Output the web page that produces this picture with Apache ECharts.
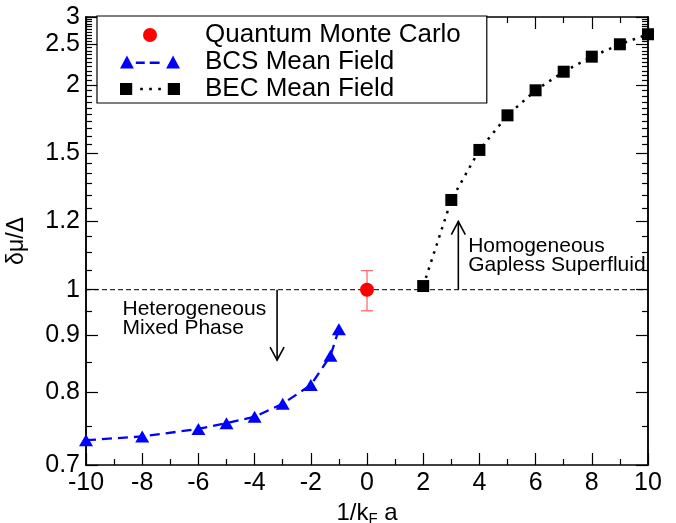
<!DOCTYPE html>
<html><head><meta charset="utf-8">
<script src="https://cdn.jsdelivr.net/npm/echarts@6/dist/echarts.min.js"></script>
<style>html,body{margin:0;padding:0;background:#fff}#c{width:676px;height:523px}</style>
</head><body><div id="c"></div>
<script>
// ---- data ----
const qmcX = [0];
const qmcY = [1.0];
const qmcErrLow = [0.951];
const qmcErrHigh = [1.049];
const bcsX = [-10, -8, -6, -5, -4, -3, -2, -1.3, -1];
const bcsY = [0.731, 0.736, 0.746, 0.754, 0.763, 0.782, 0.811, 0.861, 0.912];
const becX = [2, 3, 4, 5, 6, 7, 8, 9, 10];
const becY = [1.009, 1.281, 1.519, 1.743, 1.951, 2.141, 2.324, 2.500, 2.663];
const refLevel = 1.0;
const yTicks = [0.7, 0.8, 0.9, 1, 1.2, 1.5, 2, 2.5, 3];
const yTickLabels = ['0.7', '0.8', '0.9', '1', '1.2', '1.5', '2', '2.5', '3'];
const yMinorTicks = [0.75, 0.85, 0.95, 1.05, 1.1, 1.15, 1.25, 1.3, 1.35, 1.4, 1.45,
  1.55, 1.6, 1.65, 1.7, 1.75, 1.8, 1.85, 1.9, 1.95, 2.05, 2.1, 2.15, 2.2, 2.25, 2.3,
  2.35, 2.4, 2.45, 2.55, 2.6, 2.65, 2.7, 2.75, 2.8, 2.85, 2.9, 2.95];
const yMin = 0.7, yMax = 3;
const xMin = -10, xMax = 10, xStep = 2;
// arrows: [x, from, to]
const arrowX = [-3.2, 3.25];
const arrowFrom = [1.0, 1.0];
const arrowTo = [0.853, 1.2];
// annotations
const annoText = ['Heterogeneous\nMixed Phase', 'Homogeneous\nGapless Superfluid'];
const annoX = [-8.7, 3.6];
const annoY = [0.933, 1.09];

// ---- scale transform: reciprocal axis ----
const T = v => -1 / v;
const FONT = '"Liberation Sans", Arial, Helvetica, sans-serif';

function yLabel(t) {
  for (let i = 0; i < yTicks.length; i++) {
    if (Math.abs(T(yTicks[i]) - t) < 1e-6) return yTickLabels[i];
  }
  return '';
}
function yAxis(pos, vals, len, withLabel, withName) {
  const a = {
    type: 'value', position: pos, min: T(yMin), max: T(yMax),
    axisLine: { show: true, onZero: false, lineStyle: { color: '#000', width: 1.5 } },
    axisTick: { show: true, inside: true, length: len, customValues: vals.map(T),
      lineStyle: { color: '#000', width: 1.2 } },
    axisLabel: { show: withLabel, customValues: vals.map(T), formatter: yLabel,
      fontSize: 25, color: '#000', fontFamily: FONT, margin: 6 },
    splitLine: { show: false }, minorTick: { show: false }
  };
  if (withName) {
    a.name = 'δμ/Δ'; a.nameLocation = 'middle'; a.nameGap = 58; a.nameRotate = 90;
    a.nameTextStyle = { fontSize: 23, color: '#000', fontFamily: FONT };
  }
  return a;
}
function xAxis(pos, withLabel) {
  const a = {
    type: 'value', position: pos, min: xMin, max: xMax, interval: xStep,
    axisLine: { show: true, onZero: false, lineStyle: { color: '#000', width: 1.5 } },
    axisTick: { show: true, inside: true, length: 12, lineStyle: { color: '#000', width: 1.2 } },
    minorTick: { show: true, splitNumber: 2, length: 6, lineStyle: { color: '#000', width: 1.2 } },
    axisLabel: { show: withLabel, fontSize: 25, color: '#000', fontFamily: FONT, margin: 6 },
    splitLine: { show: false }
  };
  if (withLabel) {
    a.name = '{n|1/k}{s|F}{n| a}'; a.nameLocation = 'middle'; a.nameGap = 30;
    a.nameTextStyle = { rich: {
      n: { fontSize: 24, color: '#000', fontFamily: FONT },
      s: { fontSize: 15, color: '#000', fontFamily: FONT, padding: [12, 0, 0, 0] }
    } };
  }
  return a;
}

const chart = echarts.init(document.getElementById('c'));
chart.setOption({
  animation: false,
  backgroundColor: '#fff',
  grid: { left: 86, right: 28, top: 17, bottom: 58, containLabel: false, outerBoundsMode: 'none' },
  xAxis: [xAxis('bottom', true), xAxis('top', false)],
  yAxis: [yAxis('left', yTicks, 12, true, true), yAxis('left', yMinorTicks, 6, false, false),
          yAxis('right', yTicks, 12, false, false), yAxis('right', yMinorTicks, 6, false, false)],
  legend: {
    orient: 'vertical', left: 97, top: 16, itemWidth: 60, itemHeight: 14, itemGap: 1,
    padding: [6, 26, 1, 23], borderColor: '#000', borderWidth: 1.2, backgroundColor: '#fff',
    selectedMode: false, itemStyle: { borderWidth: 0 },
    textStyle: { fontSize: 26, color: '#000', fontFamily: FONT, padding: [0, 0, 0, 20] },
    data: [
      { name: 'Quantum Monte Carlo', icon: 'circle' },
      { name: 'BCS Mean Field', icon: 'path://M0,13L7,0L14,13Z M16,6L25,6L25,8.5L16,8.5Z M30,6L40,6L40,8.5L30,8.5Z M46.6,13L53.6,0L60.6,13Z' },
      { name: 'BEC Mean Field', icon: 'path://M0,0.5L11.5,0.5L11.5,12L0,12Z M19,5L21.5,5L21.5,7.5L19,7.5Z M27.5,5L30,5L30,7.5L27.5,7.5Z M36,5L38.5,5L38.5,7.5L36,7.5Z M45,0.5L56.5,0.5L56.5,12L45,12Z' }
    ]
  },
  series: [
    { type: 'line', name: 'ref', data: [[xMin, T(refLevel)], [xMax, T(refLevel)]], symbol: 'none',
      silent: true, lineStyle: { color: '#000', width: 1, type: [5, 3] }, z: 1 },
    { type: 'custom', name: 'qmcErr', silent: true, z: 2,
      data: qmcX.map((x, i) => [x, T(qmcErrLow[i]), T(qmcErrHigh[i])]),
      encode: { x: 0, y: [1, 2] },
      renderItem: (params, api) => {
        const a = api.coord([api.value(0), api.value(1)]);
        const b = api.coord([api.value(0), api.value(2)]);
        const st = { stroke: '#ff6a6a', lineWidth: 1.3 };
        return { type: 'group', children: [
          { type: 'line', shape: { x1: a[0], y1: a[1], x2: b[0], y2: b[1] }, style: st },
          { type: 'line', shape: { x1: a[0] - 6, y1: a[1], x2: a[0] + 6, y2: a[1] }, style: st },
          { type: 'line', shape: { x1: b[0] - 6, y1: b[1], x2: b[0] + 6, y2: b[1] }, style: st }
        ] };
      } },
    { type: 'scatter', name: 'Quantum Monte Carlo', data: qmcX.map((x, i) => [x, T(qmcY[i])]),
      symbol: 'circle', symbolSize: 14, itemStyle: { color: '#ff0000', opacity: 1 }, z: 5 },
    { type: 'line', name: 'BCS Mean Field', data: bcsX.map((x, i) => [x, T(bcsY[i])]),
      symbol: 'triangle', symbolSize: [14, 12], color: '#0000ff',
      itemStyle: { color: '#0000ff' },
      lineStyle: { color: '#0000ff', width: 2.3, type: [10, 6] }, z: 4 },
    { type: 'line', name: 'BEC Mean Field', data: becX.map((x, i) => [x, T(becY[i])]),
      symbol: 'rect', symbolSize: 12, color: '#000',
      itemStyle: { color: '#000' },
      lineStyle: { color: '#000', width: 2.5, type: [2.5, 6], cap: 'butt' }, z: 4 },
    { type: 'custom', name: 'arrows', silent: true, z: 3,
      data: arrowX.map((x, i) => [x, T(arrowFrom[i]), T(arrowTo[i])]),
      encode: { x: 0, y: [1, 2] },
      renderItem: (params, api) => {
        const a = api.coord([api.value(0), api.value(1)]);
        const b = api.coord([api.value(0), api.value(2)]);
        const d = b[1] > a[1] ? 1 : -1;
        const st = { stroke: '#000', lineWidth: 1.6, fill: null };
        return { type: 'group', children: [
          { type: 'line', shape: { x1: a[0], y1: a[1], x2: b[0], y2: b[1] }, style: st },
          { type: 'polyline', shape: { points: [[b[0] - 7, b[1] - d * 13], [b[0], b[1]], [b[0] + 7, b[1] - d * 13]] }, style: st }
        ] };
      } },
    { type: 'custom', name: 'annotations', silent: true, z: 6,
      data: annoX.map((x, i) => [x, T(annoY[i])]),
      renderItem: (params, api) => {
        const p = api.coord([api.value(0), api.value(1)]);
        return { type: 'text', x: p[0], y: p[1], style: {
          text: annoText[params.dataIndex], fontSize: 21, fontFamily: FONT, fill: '#000',
          align: 'left', verticalAlign: 'middle', lineHeight: 19 } };
      } }
  ]
});
</script>
</body></html>
